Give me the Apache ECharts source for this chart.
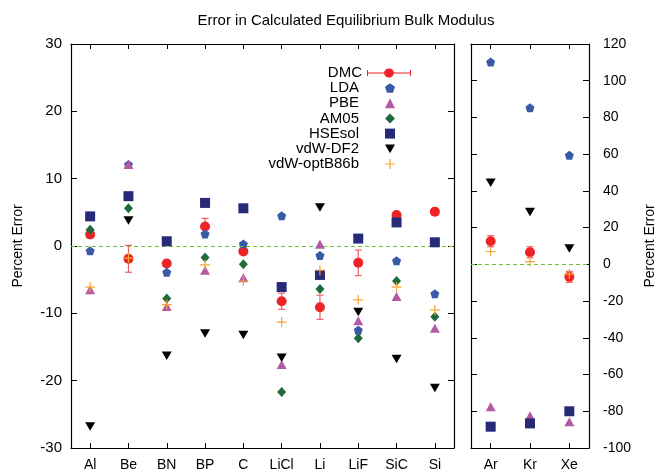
<!DOCTYPE html>
<html><head><meta charset="utf-8">
<script src="https://cdn.jsdelivr.net/npm/echarts@6/dist/echarts.min.js"></script>
<style>html,body{margin:0;padding:0;background:#fff}#c{width:658px;height:472px}</style>
</head><body><div id="c"></div>
<script>
// ---- data ----
const solids = ['Al','Be','BN','BP','C','LiCl','Li','LiF','SiC','Si'];
const gases = ['Ar','Kr','Xe'];
const methods = ['DMC','LDA','PBE','AM05','HSEsol','vdW-DF2','vdW-optB86b'];

const dmcSolid    = [1.7, -1.9, -2.6, 2.9, -0.8, -8.2, -9.1, -2.5, 4.6, 5.1];
const dmcSolidErr = [0.5, 2.0, 0.3, 1.2, 0.4, 1.2, 1.8, 1.9, 0.3, 0.3];
const ldaSolid    = [-0.7, 12.1, -3.9, 1.8, 0.3, 4.5, -1.4, -12.5, -2.2, -7.1];
const pbeSolid    = [-6.5, 12.1, -9.0, -3.6, -4.7, -17.6, 0.25, -11.1, -7.5, -12.2];
const am05Solid   = [2.4, 5.6, -7.8, -1.7, -2.7, -21.7, -6.4, -13.7, -5.2, -10.5];
const hsesolSolid = [4.4, 7.4, 0.7, 6.4, 5.6, -6.1, -4.3, 1.1, 3.5, 0.55];
const df2Solid    = [-26.8, 3.8, -16.3, -13.0, -13.2, -16.6, 5.7, -9.8, -16.8, -21.1];
const optSolid    = [-6.1, -1.8, -8.7, -2.8, -5.2, -11.3, -3.6, -8.0, -6.1, -9.5];

const dmcGas    = [12.6, 6.6, -6.8];
const dmcGasErr = [3, 3, 3];
const ldaGas    = [110.2, 85.3, 59.4];
const pbeGas    = [-77.5, -82.4, -85.7];
const am05Gas   = [null, null, null];
const hsesolGas = [-88.4, -86.6, -80.0];
const df2Gas    = [44.5, 28.5, 8.6];
const optGas    = [7.0, 1.5, -5.3];

const leftRange = {min: -30, max: 30, interval: 10};
const rightRange = {min: -100, max: 120, interval: 20};

// ---- styles ----
const FONT = '"Liberation Sans", Arial, Helvetica, sans-serif';
const colors = {
  'DMC': '#ee2326', 'LDA': '#3a5aa8', 'PBE': '#b25aa6', 'AM05': '#1e6a3a',
  'HSEsol': '#272a78', 'vdW-DF2': '#000000', 'vdW-optB86b': '#f7a535'
};
const errColor = '#f0606a';
const PENT = 'path://M50,0 L97.6,34.5 L79.4,90.5 L20.6,90.5 L2.4,34.5 Z';
const TRI_DOWN = 'path://M0,0 L10,0 L5,8.66 Z';
const PLUS = 'path://M4.4,0 H5.6 V4.4 H10 V5.6 H5.6 V10 H4.4 V5.6 H0 V4.4 H4.4 Z';
const DMC_ICON = 'path://M0,2 H1 V4.5 H17.1 A5,5 0 0,1 26.9,4.5 H43 V2 H44 V8 H43 V5.5 H26.9 A5,5 0 0,1 17.1,5.5 H1 V8 H0 Z';
const symbols = {
  'LDA': [PENT, [9, 9]], 'PBE': ['triangle', [10, 9]], 'AM05': ['diamond', [9, 10]],
  'HSEsol': ['rect', [10, 10]], 'vdW-DF2': [TRI_DOWN, [10, 8.5]], 'vdW-optB86b': [PLUS, [10, 10]]
};
const solidData = {'LDA': ldaSolid, 'PBE': pbeSolid, 'AM05': am05Solid, 'HSEsol': hsesolSolid, 'vdW-DF2': df2Solid, 'vdW-optB86b': optSolid};
const gasData = {'LDA': ldaGas, 'PBE': pbeGas, 'AM05': am05Gas, 'HSEsol': hsesolGas, 'vdW-DF2': df2Gas, 'vdW-optB86b': optGas};

function errRender(params, api) {
  const x = api.value(0), lo = api.value(1), hi = api.value(2);
  const p1 = api.coord([x, lo]), p2 = api.coord([x, hi]);
  const w = 3.5;
  const st = {stroke: errColor, lineWidth: 1.2};
  return {type: 'group', children: [
    {type: 'line', shape: {x1: p1[0], y1: p1[1], x2: p2[0], y2: p2[1]}, style: st},
    {type: 'line', shape: {x1: p1[0]-w, y1: p1[1], x2: p1[0]+w, y2: p1[1]}, style: st},
    {type: 'line', shape: {x1: p2[0]-w, y1: p2[1], x2: p2[0]+w, y2: p2[1]}, style: st}
  ]};
}
function errData(cats, vals, errs) {
  return cats.map((c, i) => [i, vals[i] - errs[i], vals[i] + errs[i]]);
}
const zeroLine = {
  silent: true, symbol: ['none', 'none'], label: {show: false},
  lineStyle: {color: '#6cc03a', type: [4, 3], width: 1}, data: [{yAxis: 0}]
};

const series = [];
[[0, 0, solids, dmcSolid, dmcSolidErr], [2, 2, gases, dmcGas, dmcGasErr]].forEach(([xi, yi, cats, vals, errs]) => {
  series.push({type: 'custom', name: 'DMC', xAxisIndex: xi, yAxisIndex: yi, renderItem: errRender,
    itemStyle: {color: colors['DMC']}, data: errData(cats, vals, errs), z: 2});
  series.push({type: 'scatter', name: 'DMC', xAxisIndex: xi, yAxisIndex: yi, symbol: 'circle', symbolSize: 10,
    itemStyle: {color: colors['DMC'], opacity: 1}, data: vals, z: 3, markLine: zeroLine});
});
['LDA','PBE','AM05','HSEsol','vdW-DF2','vdW-optB86b'].forEach((m, k) => {
  [[0, 0, solidData[m]], [2, 2, gasData[m]]].forEach(([xi, yi, vals]) => {
    series.push({type: 'scatter', name: m, xAxisIndex: xi, yAxisIndex: yi,
      symbol: symbols[m][0], symbolSize: symbols[m][1],
      itemStyle: {color: colors[m], opacity: 1}, data: vals, z: 4 + k});
  });
});

const tickStyle = {show: true, inside: true, alignWithLabel: true, length: 5, lineStyle: {color: '#000', width: 1}};
const lineStyle = {show: true, onZero: false, lineStyle: {color: '#000', width: 1.2}};
const labelStyle = {color: '#000', fontSize: 14, fontFamily: FONT};

function xAx(grid, cats, pos, showLabel) {
  return {type: 'category', gridIndex: grid, data: cats, position: pos, boundaryGap: true,
    axisLine: lineStyle, axisTick: tickStyle, splitLine: {show: false},
    axisLabel: Object.assign({show: showLabel, margin: 10}, labelStyle)};
}
function yAx(grid, range, pos, showLabel, name, nameGap, margin, fs) {
  return {type: 'value', gridIndex: grid, position: pos, min: range.min, max: range.max, interval: range.interval,
    axisLine: lineStyle, axisTick: Object.assign({}, tickStyle, {length: 6}), splitLine: {show: false},
    axisLabel: Object.assign({show: showLabel, margin: margin || 8}, labelStyle, {fontSize: fs || 14}),
    name: name || '', nameLocation: 'middle', nameGap: nameGap || 0,
    nameTextStyle: {color: '#000', fontSize: 14, fontFamily: FONT}};
}

const option = {
  animation: false,
  backgroundColor: '#fff',
  title: {text: 'Error in Calculated Equilibrium Bulk Modulus', left: 341, top: 8, textAlign: 'center',
    textStyle: {fontSize: 15, fontWeight: 'normal', color: '#000', fontFamily: FONT}},
  grid: [
    {left: 71, top: 44, width: 383, height: 404},
    {left: 471, top: 44, width: 118, height: 404}
  ],
  xAxis: [
    xAx(0, solids, 'bottom', true), xAx(0, solids, 'top', false),
    xAx(1, gases, 'bottom', true), xAx(1, gases, 'top', false)
  ],
  yAxis: [
    yAx(0, leftRange, 'left', true, 'Percent Error', 46, 9, 15),
    yAx(0, leftRange, 'right', false),
    yAx(1, rightRange, 'right', true, 'Percent Error', 54, 14, 14),
    yAx(1, rightRange, 'left', false)
  ],
  legend: [
    {data: [{name: 'DMC', icon: DMC_ICON}], orient: 'vertical', align: 'right', right: 247, top: 65.5,
      padding: 0, itemWidth: 44, itemHeight: 10, selectedMode: false,
      textStyle: {color: '#000', fontSize: 15, fontFamily: FONT, lineHeight: 15}},
    {data: ['LDA','PBE','AM05','HSEsol','vdW-DF2','vdW-optB86b'].map(m => ({name: m, icon: symbols[m][0]})),
      orient: 'vertical', align: 'right', right: 263, top: 80.5, itemGap: 0.2,
      padding: 0, itemWidth: 10, itemHeight: 10, selectedMode: false,
      textStyle: {color: '#000', fontSize: 15, fontFamily: FONT, lineHeight: 15, padding: [0, 21, 0, 0]}}
  ],
  series: series
};
const chart = echarts.init(document.getElementById('c'), null, {renderer: 'canvas'});
chart.setOption(option);
</script></body></html>
